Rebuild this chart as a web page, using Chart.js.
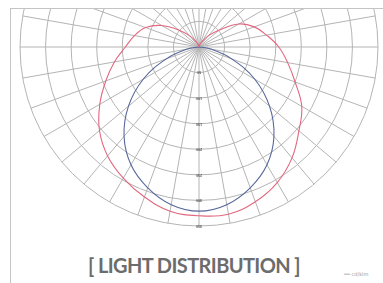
<!DOCTYPE html>
<html>
<head>
<meta charset="utf-8">
<script src="https://cdn.jsdelivr.net/npm/chart.js@4.4.1/dist/chart.umd.min.js"></script>
<style>
  html, body { margin: 0; padding: 0; background: #fff; }
  body { width: 383px; height: 283px; position: relative; overflow: hidden; }
  #clip {
    position: absolute; left: 10px; top: 8px; width: 373px; height: 275px;
    overflow: hidden; box-sizing: border-box;
    border-left: 1px solid #c4c4c4; border-top: 1px solid #c4c4c4;
  }
  #polar { position: absolute; left: 3px; top: -147px; }
  #title {
    position: absolute; left: 0; width: 388px; top: 253px; text-align: center;
    font-family: Lato, "Open Sans", sans-serif; font-size: 20px; font-weight: 700;
    color: #6c6c6c; letter-spacing: -0.6px;
  }
  #unit {
    position: absolute; left: 344px; top: 272px; font-family: "DejaVu Sans", sans-serif;
    font-size: 5px; color: #9a9a9a; line-height: 5px;
  }
</style>
</head>
<body>
<div id="clip"><canvas id="polar" width="370" height="370"></canvas></div>
<div id="title">[ LIGHT DISTRIBUTION ]</div>
<div id="unit">══ cd/klm</div>
<script>
// angles clockwise from nadir (0 = straight down), every 10 degrees
const angles = ['0°','10°','20°','30°','40°','50°','60°','70°','80°','90°','100°','110°','120°',
  '130°','140°','150°','160°','170°','180°','190°','200°','210°','220°','230°','240°','250°',
  '260°','270°','280°','290°','300°','310°','320°','330°','340°','350°'];

// C0-C180 plane (blue)
const planeC0 = [321, 313, 293, 266, 228, 180, 126, 68, 23, 0, 0, 0, 0, 0, 0, 0, 0, 0,
  0, 0, 0, 0, 0, 0, 0, 0, 0, 0, 23, 68, 126, 180, 228, 266, 293, 313];

// C90-C270 plane (red)
const planeC90 = [330, 326, 312, 296, 278, 254, 224, 194, 168, 144, 128, 111, 84, 52, 29, 14, 6, 2,
  0, 2, 6, 14, 29, 52, 90, 115, 134, 156, 176, 200, 232, 255, 283, 306, 322, 332];

const ringMax = 350;
const ringStep = 50;

const gridColor = '#b4b4b4';

new Chart(document.getElementById('polar'), {
  type: 'radar',
  data: {
    labels: angles,
    datasets: [{
      label: 'C90-C270',
      data: planeC90,
      borderColor: '#e3677f',
      borderWidth: 1.1,
      pointRadius: 0,
      fill: false,
      tension: 0.4
    }, {
      label: 'C0-C180',
      data: planeC0,
      borderColor: '#56679a',
      borderWidth: 1.1,
      pointRadius: 0,
      fill: false,
      tension: 0.4
    }]
  },
  options: {
    responsive: false,
    animation: false,
    layout: { padding: 2 },
    plugins: { legend: { display: false }, tooltip: { enabled: false } },
    scales: {
      r: {
        min: 0,
        max: ringMax,
        startAngle: 180,
        ticks: {
          stepSize: ringStep,
          showLabelBackdrop: false,
          color: '#222',
          font: { size: 4 }
        },
        pointLabels: { display: false },
        grid: { circular: true, color: gridColor, lineWidth: 1 },
        angleLines: { color: gridColor, lineWidth: 1 }
      }
    }
  }
});
</script>
</body>
</html>
